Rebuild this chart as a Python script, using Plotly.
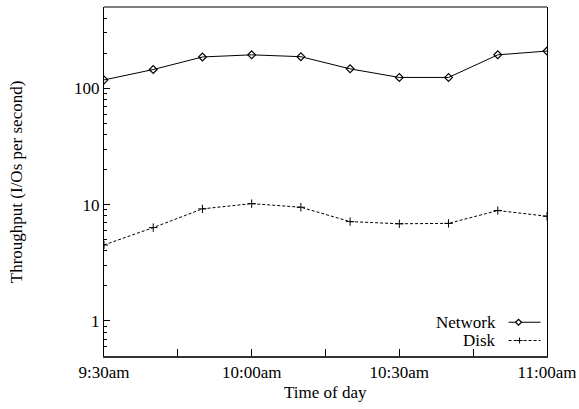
import plotly.graph_objects as go

times = ["09:30", "09:40", "09:50", "10:00", "10:10", "10:20", "10:30", "10:40", "10:50", "11:00"]
network = [118, 145, 186, 194, 187, 147, 124, 124, 194, 209]
disk = [4.5, 6.35, 9.2, 10.2, 9.5, 7.15, 6.85, 6.9, 8.9, 7.95]

x_tick_times = ["09:30", "09:45", "10:00", "10:15", "10:30", "10:45", "11:00"]
x_tick_text = ["9:30am", "", "10:00am", "", "10:30am", "", "11:00am"]
y_tick_vals = [1, 10, 100]
y_tick_text = ["1", "10", "100"]
y_minor_vals = [0.6, 0.7, 0.8, 0.9, 2, 3, 4, 5, 6, 7, 8, 9,
                20, 30, 40, 50, 60, 70, 80, 90, 200, 300, 400]

day = "2000-01-01 "
xs = [day + t for t in times]
FONT = "Liberation Serif, Times New Roman, Times, serif"

W, H = 579, 409
L, R, T, B = 103.5, 31.5, 7, 52.5
pw, ph = W - L - R, H - T - B


def px(xp):
    return (xp - L) / pw


def py(yp):
    return 1 - (yp - T) / ph


fig = go.Figure()
fig.add_trace(go.Scatter(
    x=xs, y=network, mode="lines+markers", name="Network",
    line=dict(color="black", width=1),
    marker=dict(symbol="diamond-open", size=6, color="black", line=dict(width=1.2)),
    showlegend=False))
fig.add_trace(go.Scatter(
    x=xs, y=disk, mode="lines+markers", name="Disk",
    line=dict(color="black", width=1, dash="3px,2px"),
    marker=dict(symbol="cross-thin", size=6, color="black", line=dict(width=1, color="black")),
    showlegend=False))

annots = [
    dict(x=px(498), y=py(322.7), text="Network", xanchor="right", yanchor="middle"),
    dict(x=px(498), y=py(341), text="Disk", xanchor="right", yanchor="middle"),
    dict(x=0.5, y=py(393), text="Time of day", xanchor="center", yanchor="middle"),
    dict(x=px(16), y=0.5, text="Throughput (I/Os per second)", xanchor="center",
         yanchor="middle", textangle=-90),
]
for a in annots:
    fig.add_annotation(xref="paper", yref="paper", showarrow=False,
                       font=dict(family=FONT, size=17, color="black"), **a)

shapes = []
shapes.append(dict(type="line", xref="paper", yref="paper", x0=px(509), x1=px(541),
                   y0=py(322.7), y1=py(322.7), line=dict(color="black", width=1)))
cx, cy, d = 519, 322.7, 3
shapes.append(dict(type="path", xref="paper", yref="paper",
                   path=f"M {px(cx-d)} {py(cy)} L {px(cx)} {py(cy-d)} L {px(cx+d)} {py(cy)} L {px(cx)} {py(cy+d)} Z",
                   line=dict(color="black", width=1.2), fillcolor="white"))
shapes.append(dict(type="line", xref="paper", yref="paper", x0=px(509), x1=px(541),
                   y0=py(341), y1=py(341), line=dict(color="black", width=1, dash="3px,2px")))
cx, cy = 520, 341
shapes.append(dict(type="line", xref="paper", yref="paper", x0=px(cx-3), x1=px(cx+3),
                   y0=py(cy), y1=py(cy), line=dict(color="black", width=1)))
shapes.append(dict(type="line", xref="paper", yref="paper", x0=px(cx), x1=px(cx),
                   y0=py(cy-3), y1=py(cy+3), line=dict(color="black", width=1)))
shapes.append(dict(type="line", xref="paper", yref="paper", x0=0, x1=1, y0=1, y1=1,
                   line=dict(color="black", width=1)))

fig.update_layout(
    width=W, height=H,
    margin=dict(l=L, r=R, t=T, b=B),
    paper_bgcolor="white", plot_bgcolor="white",
    font=dict(family=FONT, size=17, color="black"),
    shapes=shapes,
    xaxis=dict(
        type="date", automargin=False,
        range=[day + "09:30", day + "11:00"],
        tickvals=[day + t for t in x_tick_times], ticktext=x_tick_text,
        ticks="inside", ticklen=7, tickwidth=1, tickcolor="black",
        showline=True, linecolor="#333", linewidth=2, mirror=False,
        showgrid=False, zeroline=False,
        tickfont=dict(family=FONT, size=17),
    ),
    yaxis=dict(
        type="log", automargin=False, range=[-0.30103, 2.69897],
        tickvals=y_tick_vals, ticktext=y_tick_text,
        ticks="inside", ticklen=6, tickwidth=1, tickcolor="black",
        minor=dict(tickvals=y_minor_vals, ticks="inside", ticklen=3, tickcolor="black", showgrid=False),
        showline=True, linecolor="black", linewidth=1, mirror=True,
        showgrid=False, zeroline=False,
        tickfont=dict(family=FONT, size=17),
    ),
)

fig.write_html("out.html", config={"displayModeBar": False, "staticPlot": True})

# remove default browser body margin so the figure fills the window exactly
with open("out.html", "r", encoding="utf-8") as f:
    html = f.read()
html = html.replace("<body>", '<body style="margin:0;padding:0;overflow:hidden">', 1)
with open("out.html", "w", encoding="utf-8") as f:
    f.write(html)
